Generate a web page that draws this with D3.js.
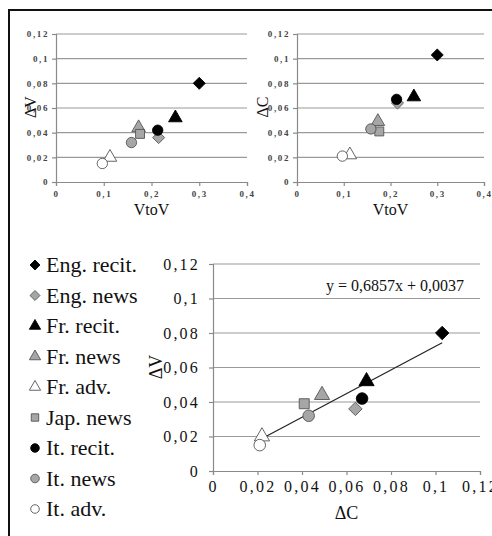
<!DOCTYPE html>
<html>
<head>
<meta charset="utf-8">
<script src="https://cdn.jsdelivr.net/npm/d3@7"></script>
<style>
  body { margin: 0; background: #fff; }
  svg { display: block; font-family: "Liberation Serif", "Times New Roman", serif; }
  svg text { font-family: "Liberation Serif", "Times New Roman", serif; }
</style>
</head>
<body>
<script>
// categories and values
const labels = ["Eng. recit.", "Eng. news", "Fr. recit.", "Fr. news", "Fr. adv.",
                "Jap. news", "It. recit.", "It. news", "It. adv."];
const vtov   = [0.300, 0.215, 0.250, 0.173, 0.113, 0.176, 0.213, 0.158, 0.097];
const deltaV = [0.080, 0.036, 0.052, 0.044, 0.020, 0.039, 0.042, 0.032, 0.015];
const deltaC = [0.103, 0.064, 0.069, 0.049, 0.022, 0.041, 0.067, 0.043, 0.021];
const shapes = ["diamond", "diamond", "triangle", "triangle", "triangle",
                "square", "circle", "circle", "circle"];
const fills  = ["#000", "#a6a6a6", "#000", "#a6a6a6", "#fff",
                "#a6a6a6", "#000", "#a6a6a6", "#fff"];
const yTicks = [0, 0.02, 0.04, 0.06, 0.08, 0.1, 0.12];
const vTicks = [0, 0.1, 0.2, 0.3, 0.4];
const trend = { slope: 0.6857, icpt: 0.0037, from: 0.021, to: 0.103 };

const data = labels.map((l, i) => ({
    label: l, vtov: vtov[i], dv: deltaV[i], dc: deltaC[i], shape: shapes[i], fill: fills[i]
}));

const w = 492, h = 536;
const svg = d3.select("body").append("svg").attr("width", w).attr("height", h);

const fmt = (d) => String(d).replace(".", ",");

const symType = {
    diamond: d3.symbolDiamond2, triangle: d3.symbolTriangle,
    square: d3.symbolSquare, circle: d3.symbolCircle
};
const symSize = { diamond: 1.15, triangle: 1.0, square: 1.0, circle: 1.05 };

const marker = (sel, d, s) => {
    sel.append("path")
        .attr("d", d3.symbol().type(symType[d.shape]).size(s * symSize[d.shape])())
        .attr("fill", d.fill)
        .attr("stroke", d.fill === "#000" ? "#000" : "#555")
        .attr("stroke-width", 0.9);
};

// one scatter panel
const panel = (o) => {
    const x = d3.scaleLinear().domain(o.xDomain).range(o.xRange);
    const y = d3.scaleLinear().domain([0, 0.12]).range(o.yRange);
    const g = svg.append("g");

    g.selectAll(".grid").data(yTicks.slice(1)).enter().append("line")
        .attr("x1", o.xRange[0]).attr("x2", o.xRange[1])
        .attr("y1", (d) => y(d)).attr("y2", (d) => y(d))
        .attr("stroke", "#9a9a9a").attr("stroke-width", 1.2);

    const xAxis = g.append("g").attr("transform", `translate(0,${o.yRange[0]})`)
        .call(d3.axisBottom(x).tickValues(o.xTicks).tickFormat(fmt).tickSize(4).tickPadding(o.xPad));
    const yAxis = g.append("g").attr("transform", `translate(${o.xRange[0]},0)`)
        .call(d3.axisLeft(y).tickValues(yTicks).tickFormat(fmt).tickSize(4).tickPadding(o.yPad));
    [xAxis, yAxis].forEach((a) => {
        a.attr("font-family", null);
        a.select(".domain").attr("stroke", "#8a8a8a").attr("stroke-width", 1.2);
        a.selectAll(".tick line").attr("stroke", "#8a8a8a").attr("stroke-width", 1.2);
        a.selectAll("text").attr("font-size", o.tickFs)
            .attr("letter-spacing", o.tickLs)
            .attr("font-weight", o.tickBold ? "bold" : "normal").attr("fill", o.tickColor);
    });

    if (o.trend) {
        g.append("line")
            .attr("x1", x(trend.from)).attr("y1", y(trend.slope * trend.from + trend.icpt))
            .attr("x2", x(trend.to)).attr("y2", y(trend.slope * trend.to + trend.icpt))
            .attr("stroke", "#222").attr("stroke-width", 1.2);
        g.append("text").attr("x", o.eqX).attr("y", o.eqY).attr("font-size", 16)
            .attr("fill", "#111").text("y = 0,6857x + 0,0037");
    }

    g.selectAll(".pt").data(data).enter().append("g")
        .attr("transform", (d) => `translate(${x(d[o.xKey])},${y(d[o.yKey])})`)
        .each(function (d) { marker(d3.select(this), d, o.size); });

    g.append("text").attr("x", (o.xRange[0] + o.xRange[1]) / 2).attr("y", o.xTitleY)
        .attr("text-anchor", "middle").attr("font-size", o.titleFs).attr("fill", "#111")
        .text(o.xTitle);
    g.append("text")
        .attr("transform", `translate(${o.yTitleX},${o.yTitleY}) rotate(-90)`)
        .attr("text-anchor", "middle").attr("font-size", o.titleFs).attr("fill", "#111")
        .text(o.yTitle);
};

panel({ xKey: "vtov", yKey: "dv", xDomain: [0, 0.4], xRange: [56, 247], yRange: [182, 34],
        xTicks: vTicks, tickFs: 9, tickLs: 1.6, tickBold: true, tickColor: "#444", xPad: 5, yPad: 3, size: 80,
        xTitle: "VtoV", yTitle: "\u0394V", titleFs: 16, xTitleY: 215, yTitleX: 36, yTitleY: 107 });

panel({ xKey: "vtov", yKey: "dc", xDomain: [0, 0.4], xRange: [297, 484], yRange: [182, 34],
        xTicks: vTicks, tickFs: 9, tickLs: 1.6, tickBold: true, tickColor: "#444", xPad: 5, yPad: 3, size: 80,
        xTitle: "VtoV", yTitle: "\u0394C", titleFs: 16, xTitleY: 215, yTitleX: 268, yTitleY: 107 });

panel({ xKey: "dc", yKey: "dv", xDomain: [0, 0.12], xRange: [213, 480], yRange: [471, 264],
        xTicks: yTicks, tickFs: 16, tickLs: 2.2, tickBold: false, tickColor: "#111", xPad: 6, yPad: 9, size: 100,
        trend: true, eqX: 326, eqY: 291,
        xTitle: "\u0394C", yTitle: "\u0394V", titleFs: 18, xTitleY: 519, yTitleX: 162, yTitleY: 367 });

// legend
const leg = svg.append("g").selectAll("g").data(data).enter().append("g")
    .attr("transform", (d, i) => `translate(35,${265 + i * 30.5})`);
leg.each(function (d) { marker(d3.select(this), d, 55); });
leg.append("text").attr("x", 11).attr("y", 7).attr("font-size", 22).attr("fill", "#111")
    .text((d) => d.label);

// frame edges (top and left)
svg.append("path").attr("d", `M9,${h} V10 H${w}`)
    .attr("fill", "none").attr("stroke", "#111").attr("stroke-width", 2);
</script>
</body>
</html>
